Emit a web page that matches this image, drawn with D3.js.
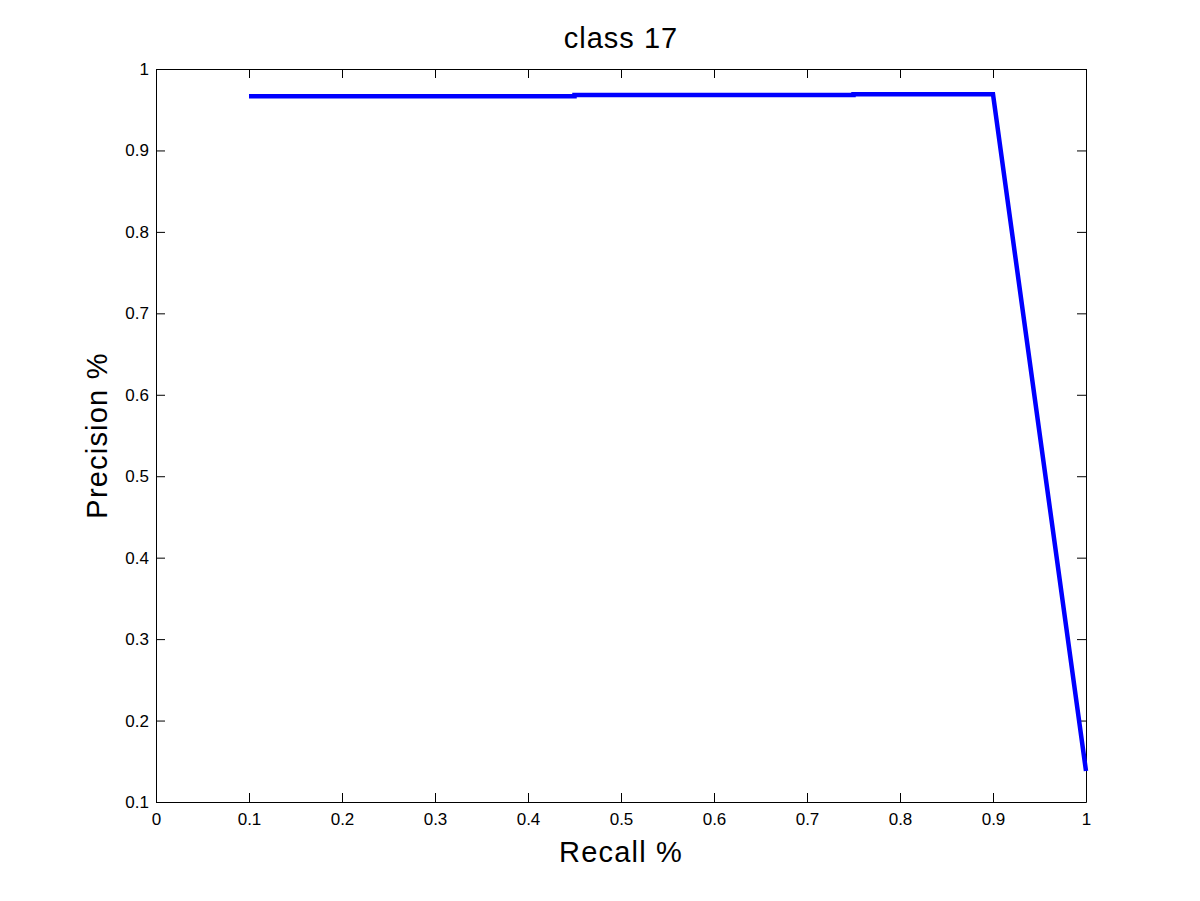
<!DOCTYPE html>
<html><head><meta charset="utf-8">
<script src="https://cdn.jsdelivr.net/npm/d3@7"></script>
<style>body{margin:0;background:#fff}svg{display:block}text{font-family:"Liberation Sans",Arial,sans-serif}</style>
</head><body>
<script>
const recall = [0.1, 0.45, 0.45, 0.75, 0.75, 0.9, 1.0];
const precision = [0.9665, 0.9665, 0.968, 0.968, 0.969, 0.969, 0.138];
const xTicks = [0, 0.1, 0.2, 0.3, 0.4, 0.5, 0.6, 0.7, 0.8, 0.9, 1];
const yTicks = [0.1, 0.2, 0.3, 0.4, 0.5, 0.6, 0.7, 0.8, 0.9, 1];
const titleText = "class 17", xLabel = "Recall %", yLabel = "Precision %";

const W = 1200, H = 901;
const L = 156, R = 1086, T = 69, B = 802;
const svg = d3.select("body").append("svg").attr("width", W).attr("height", H);
const x = d3.scaleLinear().domain([0, 1]).range([L, R]);
const y = d3.scaleLinear().domain([0.1, 1]).range([B, T]);
const tl = 9;
const fmt = d => String(d);

svg.append("g").attr("transform", `translate(0,${B})`)
  .call(d3.axisBottom(x).tickValues(xTicks).tickFormat(fmt).tickSizeInner(-tl).tickSizeOuter(0).tickPadding(11));
svg.append("g").attr("transform", `translate(0,${T})`)
  .call(d3.axisTop(x).tickValues(xTicks).tickFormat("").tickSizeInner(-tl).tickSizeOuter(0));
svg.append("g").attr("transform", `translate(${L},0)`)
  .call(d3.axisLeft(y).tickValues(yTicks).tickFormat(fmt).tickSizeInner(-tl).tickSizeOuter(0).tickPadding(7));
svg.append("g").attr("transform", `translate(${R},0)`)
  .call(d3.axisRight(y).tickValues(yTicks).tickFormat("").tickSizeInner(-tl).tickSizeOuter(0));
svg.selectAll(".domain").attr("stroke", "#000").attr("stroke-width", 1);
svg.selectAll(".tick line").attr("stroke", "#000");
svg.selectAll(".tick text").attr("font-size", 17).attr("fill", "#000")
  .attr("font-family", "'Liberation Sans', Arial, sans-serif");

const pts = recall.map((r, i) => [r, precision[i]]);
svg.append("path").datum(pts)
  .attr("fill", "none").attr("stroke", "#0000ff").attr("stroke-width", 4.5)
  .attr("stroke-linejoin", "miter")
  .attr("d", d3.line().x(d => x(d[0])).y(d => y(d[1])));

svg.append("text").attr("x", (L + R) / 2).attr("y", 48).attr("text-anchor", "middle")
  .attr("font-size", 29).attr("letter-spacing", 1).text(titleText);
svg.append("text").attr("x", (L + R) / 2).attr("y", 862).attr("text-anchor", "middle")
  .attr("font-size", 29).attr("letter-spacing", 1.2).text(xLabel);
svg.append("text").attr("transform", `translate(107,${(T + B) / 2}) rotate(-90)`)
  .attr("text-anchor", "middle").attr("font-size", 29).attr("letter-spacing", 1.2).text(yLabel);
</script>
</body></html>
